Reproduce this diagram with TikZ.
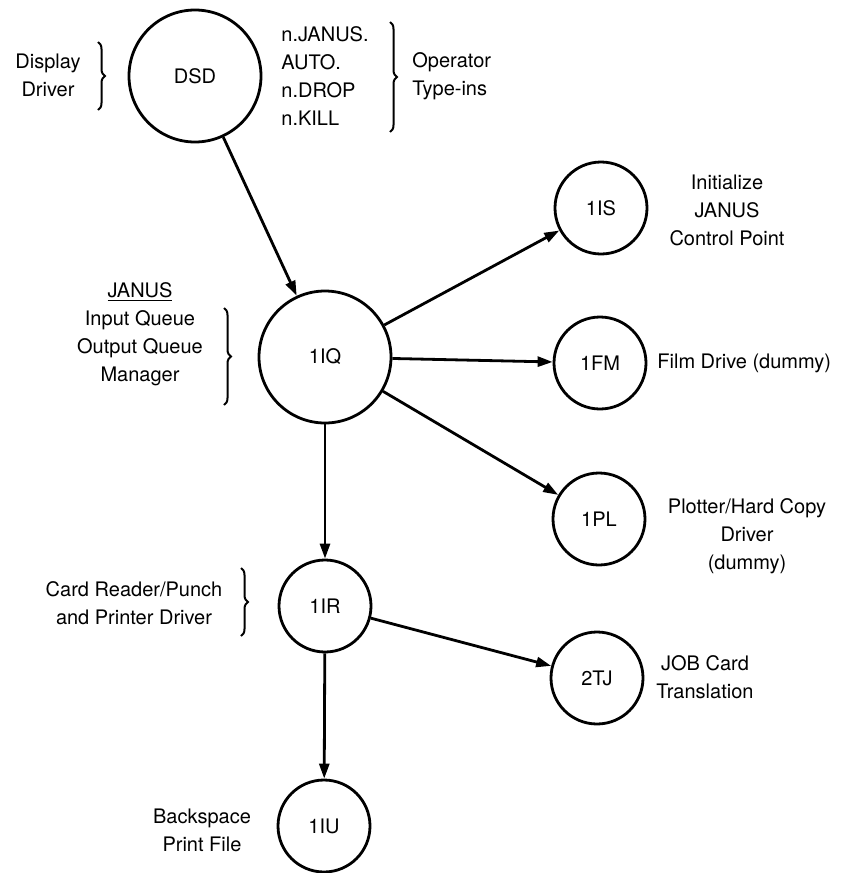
\documentclass[tikz,border=0pt]{standalone}
\usepackage{fontspec}
\setmainfont{TeX Gyre Heros}
\usetikzlibrary{arrows.meta,decorations.pathreplacing}

\begin{document}
\begin{tikzpicture}[x=0.5pt,y=-0.5pt,
  proc/.style={draw, circle, line width=1.4pt, inner sep=0pt, font=\fontsize{10}{14}\selectfont},
  big/.style={proc, minimum size=66pt},
  small/.style={proc, minimum size=46pt},
  note/.style={align=center, inner sep=0pt, font=\fontsize{10}{14}\selectfont},
  flow/.style={line width=1.4pt, -{Triangle[length=7.5pt,width=5pt]}},
  grp/.style={line width=1pt, decorate, decoration={brace, amplitude=3.5pt}}]

\useasboundingbox (0,0) rectangle (858,873);

% Processes
\node[big] (dsd) at (195,76) {DSD};
\node[big] (iq) at (325,357) {1IQ};
\node[small] (is) at (601,208) {1IS};
\node[small] (fm) at (600,363) {1FM};
\node[small] (pl) at (599,519) {1PL};
\node[small] (ir) at (325,606) {1IR};
\node[small] (tj) at (597,678) {2TJ};
\node[small] (iu) at (324,826) {1IU};

% Display driver and operator type-ins
\node[note] (dsdlab) at (48,75) {Display\\Driver};
\draw[grp] (98,42) -- (98,110);
\node[note, align=left, anchor=west] (cmds) at (281,76) {n.JANUS.\\AUTO.\\n.DROP\\n.KILL};
\draw[grp] (390,22) -- (390,132);
\node[note, align=left, anchor=west] (oper) at (412,76) {Operator\\Type-ins};

% Queue manager
\node[note] (janus) at (140,334) {\underline{JANUS}\\Input Queue\\Output Queue\\Manager};
\draw[grp] (224,308) -- (224,405);

% Card reader
\node[note] (card) at (134,603) {Card Reader/Punch\\and Printer Driver};
\draw[grp] (241,568) -- (241,636);

% Right side labels
\node[note] (islab) at (727,210) {Initialize\\JANUS\\Control Point};
\node[note, anchor=west] (fmlab) at (657,363) {Film Drive (dummy)};
\node[note] (pllab) at (747,536) {Plotter/Hard Copy\\Driver\\(dummy)};
\node[note] (tjlab) at (705,677) {JOB Card\\Translation};
\node[note] (iulab) at (202,830) {Backspace\\Print File};

% Flow
\draw[flow] (dsd) -- (iq);
\draw[flow] (iq) -- (is);
\draw[flow] (iq) -- (fm);
\draw[flow] (iq) -- (pl);
\draw[flow] (iq) -- (ir);
\draw[flow] (ir) -- (tj);
\draw[flow] (ir) -- (iu);

\end{tikzpicture}
\end{document}
